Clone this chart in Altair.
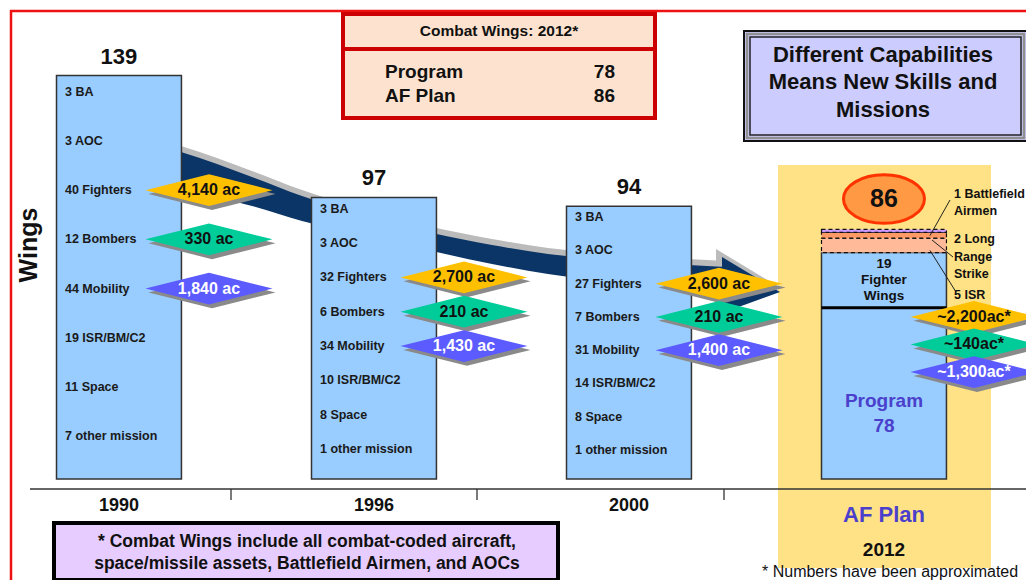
import altair as alt
import pandas as pd

# ---------------- data ----------------
years = ["1990", "1996", "2000", "2012"]
total_wings = [139, 97, 94, 78]          # 2012 value = Program
af_plan_2012 = 86

mission_names = ["BA", "AOC", "Fighters", "Bombers", "Mobility", "ISR/BM/C2", "Space", "other mission"]
wings_1990 = [3, 3, 40, 12, 44, 19, 11, 7]
wings_1996 = [3, 3, 32, 6, 34, 10, 8, 1]
wings_2000 = [3, 3, 27, 7, 31, 14, 8, 1]

fighter_ac = [4140, 2700, 2600, 2200]
bomber_ac = [330, 210, 210, 140]
mobility_ac = [1840, 1430, 1400, 1300]

plan_add_names = ["5 ISR", "2 Long Range Strike", "1 Battlefield Airmen"]
plan_add_wings = [5, 2, 1]
plan_add_colors = ["#FFBB99", "#FF9966", "#CC99FF"]
fighter_wings_2012 = 19

combat_rows = ["Program", "AF Plan"]
combat_vals = [78, 86]

# ---------------- layout helpers ----------------
FONT = "Liberation Sans"
W, H = 1018, 572
YMIN, YMAX = -31.38, 161.6
PX_PER_WING = H / (YMAX - YMIN)
R0, R1 = 46.5, 936.45

def px(x):
    return x - 8

def py(y):
    return y - 8

def wy_page(v):
    return H * (YMAX - v) / (YMAX - YMIN) + 8

def band_scale(shift=0):
    return alt.Scale(type="band", domain=years, range=[R0 + shift, R1 + shift],
                     paddingInner=0.51, paddingOuter=0)

XS = band_scale()
YS = alt.Scale(domain=[YMIN, YMAX], nice=False, zero=False)
PXS = alt.Scale(domain=[8, 8 + W], range=[0, W], nice=False, zero=False)
PYS = alt.Scale(domain=[8, 8 + H], range=[0, H], nice=False, zero=False)

def XB(scale=XS):
    return alt.X("year:N", scale=scale, axis=None)

def YW(f):
    return alt.Y(f, type="quantitative", scale=YS, axis=None)

one = pd.DataFrame({"k": [0]})

def T(x, y, s, size=13, weight="bold", color="#111111", align="center", angle=None):
    kw = dict(text=s, fontSize=size, fontWeight=weight, color=color, align=align,
              baseline="middle", font=FONT)
    if angle is not None:
        kw["angle"] = angle
    return alt.Chart(one).mark_text(**kw).encode(x=alt.value(px(x)), y=alt.value(py(y)))

def R(x0, y0, x1, y1, **kw):
    return alt.Chart(one).mark_rect(**kw).encode(
        x=alt.value(px(x0)), x2=alt.value(px(x1)), y=alt.value(py(y0)), y2=alt.value(py(y1)))

def L(x0, y0, x1, y1, **kw):
    return alt.Chart(one).mark_rule(**kw).encode(
        x=alt.value(px(x0)), x2=alt.value(px(x1)), y=alt.value(py(y0)), y2=alt.value(py(y1)))

layers = []

# frame + 2012 highlight
layers.append(L(8, 9, 1034, 9, color="#EE1111", strokeWidth=2.5))
layers.append(L(9, 8, 9, 588, color="#EE1111", strokeWidth=2.5))
layers.append(R(776, 163, 989, 566, color="#FFE285"))

# big trend arrow (decorative)
arrow_x = [179, 215, 250, 300, 360, 430, 490, 546, 610, 667, 724]
arrow_top = [150, 162, 175, 194, 213, 231, 243, 252, 258, 262, 265]
arrow_bot = [186, 195, 204, 219, 233, 249, 262, 272, 279, 283, 286]
shaft = pd.DataFrame({"ax": arrow_x, "top": arrow_top, "bot": arrow_bot})
shaft_sh = pd.DataFrame({"ax": arrow_x, "top": [t - 6 for t in arrow_top], "bot": [b - 6 for b in arrow_bot]})
head = pd.DataFrame({"ax": [720, 778], "top": [255, 290], "bot": [311, 290]})
head_sh = pd.DataFrame({"ax": [714, 772], "top": [247, 282], "bot": [303, 282]})

def area(df, color, interp):
    return alt.Chart(df).mark_area(color=color, interpolate=interp).encode(
        x=alt.X("ax:Q", scale=PXS, axis=None),
        y=alt.Y("top:Q", scale=PYS, axis=None),
        y2="bot:Q")

layers += [area(shaft_sh, "#BBBBBB", "monotone"), area(head_sh, "#BBBBBB", "linear"),
           area(shaft, "#0B3566", "monotone"), area(head, "#0B3566", "linear")]

# baseline and ticks
layers.append(L(28, 487, 1034, 487, color="#333333", strokeWidth=1.3))
for tx in [229, 475, 722]:
    layers.append(L(tx, 487, tx, 498, color="#333333", strokeWidth=1.3))

# bars
bars_df = pd.DataFrame({"year": years, "wings": total_wings})
layers.append(alt.Chart(bars_df).mark_bar(color="#99CCFF", stroke="#333333", strokeWidth=1.5).encode(
    x=XB(), y=YW("wings"), y2=alt.datum(0)))

# 2012 AF plan additions
y0s, y1s, acc = [], [], total_wings[3]
for w in plan_add_wings:
    y0s.append(acc)
    acc += w
    y1s.append(acc)
add_df = pd.DataFrame({"year": "2012", "name": plan_add_names, "y0": y0s, "y1": y1s, "fill": plan_add_colors})
layers.append(alt.Chart(add_df).mark_bar(stroke="#111111", strokeDash=[4, 3], strokeWidth=1.2).encode(
    x=XB(), y=YW("y1"), y2="y0", color=alt.Color("fill:N", scale=None)))

# fighter wings separator line
sep = total_wings[3] - fighter_wings_2012
sep_df = pd.DataFrame({"year": ["2012"], "a": [sep + 0.5], "b": [sep - 0.5]})
layers.append(alt.Chart(sep_df).mark_rect(color="#000000").encode(x=XB(), y=YW("a"), y2="b"))

# labels inside bars
rows = []
for yr, tot, ws in zip(years[:3], total_wings[:3], [wings_1990, wings_1996, wings_2000]):
    for i, (w, n) in enumerate(zip(ws, mission_names)):
        rows.append(dict(year=yr, text=f"{w} {n}", y=tot * (1 - (0.04 + 0.122 * i))))
lab_df = pd.DataFrame(rows)
layers.append(alt.Chart(lab_df).mark_text(align="left", baseline="middle", dx=-54, font=FONT,
                                          fontSize=12.5, fontWeight="bold", color="#1a1a1a").encode(
    x=XB(), y=YW("y"), text="text:N"))

# totals above bars
top_df = pd.DataFrame({"year": years[:3], "wings": total_wings[:3]})
layers.append(alt.Chart(top_df).mark_text(baseline="middle", dy=-19, font=FONT, fontSize=22,
                                          fontWeight="bold", color="#111111").encode(
    x=XB(), y=YW("wings"), text="wings:Q"))

# year labels
yl_df = pd.DataFrame({"year": years[:3]})
layers.append(alt.Chart(yl_df).mark_text(baseline="middle", font=FONT, fontSize=18,
                                         fontWeight="bold", color="#111111").encode(
    x=XB(), y=alt.value(py(504)), text="year:N"))

# aircraft diamonds
DIAMOND = "M-1,0L0,-0.25L1,0L0,0.25Z"
drows = []
kinds = [(fighter_ac, "#FFC000", "#111111"), (bomber_ac, "#00CC99", "#111111"), (mobility_ac, "#5B5BFF", "#FFFFFF")]
for k, (vals, fill, tc) in enumerate(kinds):
    i = 2 + k
    for j, yr in enumerate(years):
        tot = total_wings[j]
        txt = f"{vals[j]:,} ac" if yr != "2012" else f"~{vals[j]:,}ac*"
        yv = tot * (1 - (0.04 + 0.122 * i))
        drows.append(dict(year=yr, text=txt, y=yv, ysh=yv - 4 / PX_PER_WING, fill=fill, tc=tc))
dia_df = pd.DataFrame(drows)
DOFF = 90
layers.append(alt.Chart(dia_df).mark_point(shape=DIAMOND, size=16129, filled=True, color="#8A8A8A",
                                           opacity=1, strokeWidth=0).encode(
    x=XB(band_scale(DOFF + 3)), y=YW("ysh")))
layers.append(alt.Chart(dia_df).mark_point(shape=DIAMOND, size=16129, filled=True, opacity=1,
                                           strokeWidth=0).encode(
    x=XB(band_scale(DOFF)), y=YW("y"), color=alt.Color("fill:N", scale=None)))
layers.append(alt.Chart(dia_df).mark_text(baseline="middle", font=FONT, fontSize=16,
                                          fontWeight="bold").encode(
    x=XB(band_scale(DOFF)), y=YW("y"), text="text:N", color=alt.Color("tc:N", scale=None)))

# 86 ellipse
ELLIPSE = "M-1,0A1,0.6,0,1,1,1,0A1,0.6,0,1,1,-1,0Z"
ell_df = pd.DataFrame({"year": ["2012"], "plan": [af_plan_2012]})
ell_df["ypos"] = ell_df["plan"] + 31 / PX_PER_WING
layers.append(alt.Chart(ell_df).mark_point(shape=ELLIPSE, size=6561, filled=True, fill="#FF9944",
                                           stroke="#FF3300", strokeWidth=3, opacity=1).encode(
    x=XB(), y=YW("ypos")))
layers.append(alt.Chart(ell_df).mark_text(baseline="middle", font=FONT, fontSize=25,
                                          fontWeight="bold", color="#111111").encode(
    x=XB(), y=YW("ypos"), text="plan:Q"))

# 19 Fighter Wings text
mid = total_wings[3] - fighter_wings_2012 / 2
fw_df = pd.DataFrame({"year": "2012", "t": [str(fighter_wings_2012), "Fighter", "Wings"],
                      "y": [mid + 5.5, mid, mid - 5.5]})
layers.append(alt.Chart(fw_df).mark_text(baseline="middle", font=FONT, fontSize=13.5,
                                         fontWeight="bold", color="#111111").encode(
    x=XB(), y=YW("y"), text="t:N"))

# 2012 text
layers.append(T(882, 399, combat_rows[0], 19, color="#4A40CC"))
layers.append(T(882, 424, str(total_wings[3]), 19, color="#4A40CC"))
layers.append(T(882, 513, "AF Plan", 22, color="#4A40CC"))
layers.append(T(882, 548, years[3], 19))

# additions annotations
ann = [("1 Battlefield", 192), ("Airmen", 209), ("2 Long", 237), ("Range", 255), ("Strike", 272), ("5 ISR", 293)]
for s, yy in ann:
    layers.append(T(952, yy, s, 12.5, align="left"))
layers.append(L(948, 198, 928, wy_page(85.5), color="#222222", strokeWidth=1))
layers.append(L(951, 255, 930, wy_page(84), color="#222222", strokeWidth=1))
layers.append(L(954, 290, 928, wy_page(80.5), color="#222222", strokeWidth=1))

# Combat wings box
layers.append(R(341, 12, 653, 116, fill="#FDE3CF", stroke="#CC0000", strokeWidth=4))
layers.append(L(341, 47, 653, 47, color="#CC0000", strokeWidth=4))
layers.append(T(497, 29, "Combat Wings: 2012*", 15.5))
for (name, val), yy in zip(zip(combat_rows, combat_vals), [70, 94]):
    layers.append(T(383, yy, name, 19, align="left"))
    layers.append(T(613, yy, str(val), 19, align="right"))

# Capabilities box
layers.append(R(742, 29, 1025, 139, fill="#CCCCFF", stroke="#111111", strokeWidth=2))
layers.append(R(745, 32, 1022, 136, fillOpacity=0, stroke="#909090", strokeWidth=2.5))
layers.append(R(748, 35, 1019, 133, fillOpacity=0, stroke="#222222", strokeWidth=1.5))
for s, yy in [("Different Capabilities", 53), ("Means New Skills and", 80), ("Missions", 108)]:
    layers.append(T(881, yy, s, 22))

# footnote box
layers.append(R(52, 521, 556, 578, fill="#E6CCFF", stroke="#000000", strokeWidth=4))
layers.append(T(305, 540, "* Combat Wings include all combat-coded aircraft,", 17.5))
layers.append(T(305, 562, "space/missile assets, Battlefield Airmen, and AOCs", 17.5))

# axis title & note
layers.append(T(27, 243, "Wings", 25, angle=270))
layers.append(T(760, 570, "* Numbers have been approximated", 16, weight="normal", align="left"))

chart = alt.layer(*layers).resolve_scale(x="independent", y="independent").properties(
    width=W, height=H, padding=0,
    autosize=alt.AutoSizeParams(type="fit", contains="padding"),
    background="white",
).configure_view(stroke=None)

chart.save("out.html", embed_options={"renderer": "svg", "actions": False})
